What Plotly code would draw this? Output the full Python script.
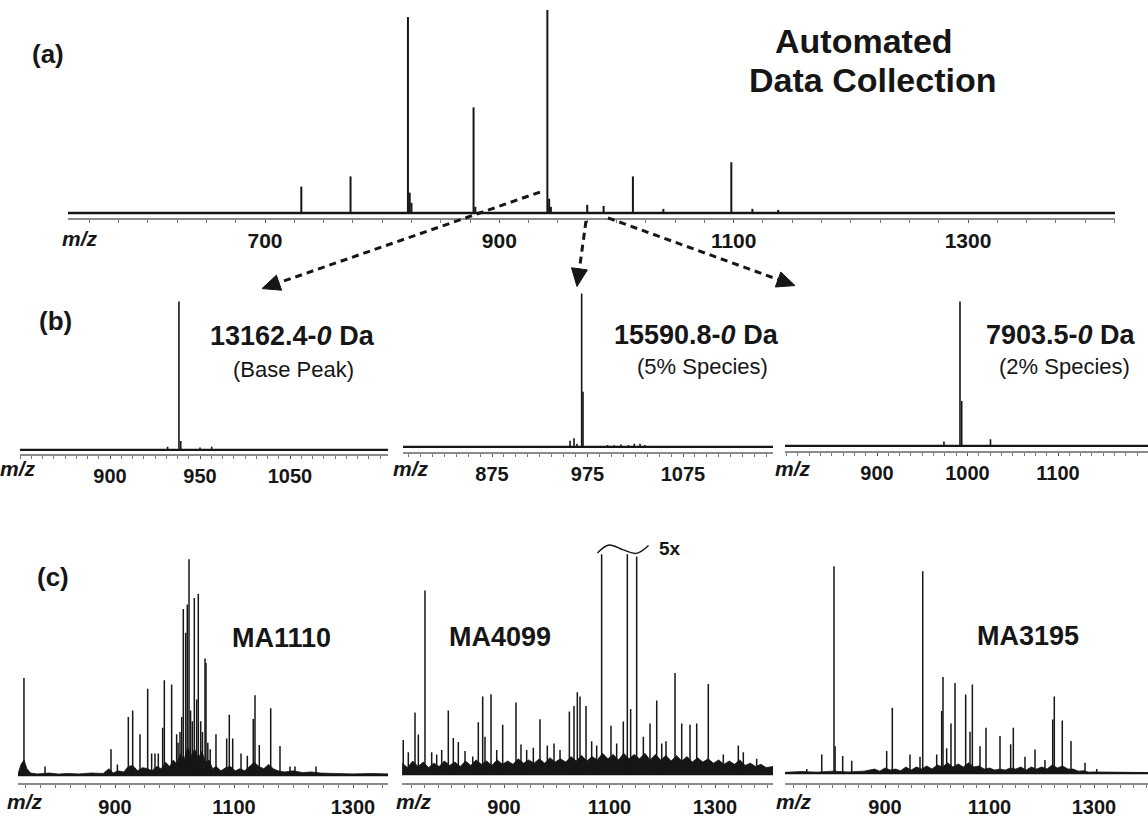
import math
import plotly.graph_objects as go

FIG_W, FIG_H = 1148, 818
FONT = "Liberation Sans, Arial, Helvetica, sans-serif"
INK = "#161616"

# ---------------- (a) survey scan ----------------
survey_mz = [731, 773, 822, 823.5, 825, 878, 879.5, 941, 942.5, 944, 975, 989,
             1014, 1040, 1098, 1116, 1138]
survey_int = [0.13, 0.18, 0.965, 0.10, 0.05, 0.52, 0.03, 1.0, 0.07, 0.03, 0.04, 0.035,
              0.18, 0.02, 0.25, 0.02, 0.015]
survey_ticks = [700, 900, 1100, 1300]

# ---------------- (b) isolated species ----------------
base_mz = [932, 938.3, 939.3, 950, 956.5]
base_int = [0.02, 1.0, 0.06, 0.015, 0.02]
base_ticks = [900, 950, 1000]
base_ticktext = ["900", "950", "1050"]

sp5_mz = [956.7, 960.9, 964, 968.9, 970.3, 996, 1003, 1010, 1018, 1024, 1030, 1035]
sp5_int = [0.04, 0.056, 0.02, 1.0, 0.36, 0.012, 0.01, 0.015, 0.012, 0.02, 0.02, 0.012]
sp5_ticks = [875, 975, 1075]

sp2_mz = [974, 991.7, 993.6, 1025.4]
sp2_int = [0.03, 1.0, 0.31, 0.046]
sp2_ticks = [900, 1000, 1100]

# ---------------- (c) archived spectra ----------------
ma1110_mz = [747, 782.4, 893.3, 904, 922.4, 929.7, 942, 954.9, 961.6, 967.2, 972.8, 980.1,
             982.9, 995.2, 1003.6, 1006, 1009.2, 1012.1, 1014.8, 1018.8, 1021.5, 1024.4, 1027,
             1030, 1033.3, 1037.3, 1040, 1044, 1047, 1051.3, 1052.9, 1056, 1060, 1069.7,
             1087.7, 1092.1, 1097.8, 1111.8, 1122.4, 1132.4, 1135.3, 1142.5, 1161.7, 1177.3,
             1194.1, 1202.5, 1237.8]
ma1110_int = [0.45, 0.04, 0.12, 0.05, 0.27, 0.30, 0.19, 0.40, 0.10, 0.10, 0.10, 0.22,
              0.44, 0.42, 0.19, 0.15, 0.20, 0.27, 0.77, 0.66, 0.79, 1.0, 0.30,
              0.25, 0.82, 0.35, 0.84, 0.25, 0.20, 0.54, 0.52, 0.15, 0.12, 0.19,
              0.17, 0.28, 0.17, 0.10, 0.09, 0.26, 0.37, 0.14, 0.31, 0.135,
              0.04, 0.04, 0.04]
ma1110_noise_mz = [737, 742, 747, 752, 758, 770, 790, 805, 820, 840, 860, 880, 890, 897, 905,
                   915, 922, 930, 938, 946, 955, 962, 970, 978, 985, 992, 998, 1004, 1010,
                   1016, 1022, 1028, 1034, 1040, 1046, 1052, 1058, 1064, 1070, 1078, 1086,
                   1094, 1102, 1110, 1118, 1126, 1134, 1142, 1150, 1158, 1166, 1174, 1185,
                   1200, 1215, 1230, 1245, 1270, 1300, 1330, 1359]
ma1110_noise_int = [0.005, 0.05, 0.07, 0.03, 0.01, 0.006, 0.01, 0.005, 0.008, 0.006, 0.01,
                    0.008, 0.03, 0.01, 0.02, 0.015, 0.04, 0.045, 0.02, 0.035, 0.03, 0.02,
                    0.04, 0.03, 0.06, 0.04, 0.07, 0.05, 0.10, 0.07, 0.13, 0.09, 0.12, 0.08,
                    0.11, 0.06, 0.07, 0.03, 0.04, 0.02, 0.035, 0.04, 0.02, 0.03, 0.02, 0.04,
                    0.06, 0.04, 0.03, 0.05, 0.03, 0.02, 0.015, 0.02, 0.012, 0.015, 0.01,
                    0.008, 0.006, 0.008, 0.006]

ma4099_mz = [709, 718.6, 731.3, 737.6, 750.2, 762.9, 772.4, 781.9, 794.4, 803.9, 813.4, 826.1,
             840.7, 851.3, 859.6, 864, 875.4, 886.2, 897.5, 922.7, 932.2, 943, 955.6, 968.2,
             982.1, 994.8, 1006.2, 1023.9, 1032.7, 1039, 1044.1, 1055.5, 1066.2, 1075.7,
             1085.1, 1102.8, 1113.6, 1126.2, 1133.8, 1140.1, 1151.5, 1164.2, 1176.8, 1189.5,
             1199, 1207.1, 1224.2, 1236.9, 1252.6, 1265.3, 1287.3, 1315.8, 1344.2, 1353.7, 1379]
ma4099_int = [0.155, 0.10, 0.28, 0.18, 0.835, 0.10, 0.09, 0.11, 0.29, 0.165, 0.146, 0.105,
              0.08, 0.236, 0.353, 0.17, 0.364, 0.11, 0.225, 0.326, 0.135, 0.11, 0.12, 0.25,
              0.13, 0.14, 0.11, 0.285, 0.31, 0.373, 0.353, 0.31, 0.15, 0.13,
              1.0, 0.22, 0.14, 0.24, 1.0, 0.296, 0.99, 0.17, 0.23, 0.335,
              0.14, 0.15, 0.46, 0.23, 0.225, 0.23, 0.41, 0.09, 0.13, 0.10, 0.07]
ma4099_noise_mz = [707, 717, 727, 737, 747, 757, 767, 777, 787, 797, 807, 817, 827, 837, 847,
                   857, 867, 877, 887, 897, 907, 917, 927, 937, 947, 957, 967, 977, 987, 997,
                   1007, 1017, 1027, 1037, 1047, 1057, 1067, 1077, 1087, 1097, 1107, 1117,
                   1127, 1137, 1147, 1157, 1167, 1177, 1187, 1197, 1207, 1217, 1227, 1237,
                   1247, 1257, 1267, 1277, 1287, 1297, 1307, 1317, 1327, 1337, 1347, 1357,
                   1367, 1377, 1387, 1397, 1410]
ma4099_noise_int = [0.05, 0.03, 0.06, 0.035, 0.055, 0.03, 0.05, 0.035, 0.06, 0.04, 0.055,
                    0.035, 0.06, 0.04, 0.065, 0.045, 0.06, 0.04, 0.065, 0.045, 0.06, 0.045,
                    0.07, 0.05, 0.065, 0.05, 0.07, 0.05, 0.075, 0.055, 0.07, 0.055, 0.08,
                    0.06, 0.085, 0.06, 0.08, 0.065, 0.095, 0.07, 0.09, 0.065, 0.095, 0.07,
                    0.09, 0.07, 0.095, 0.065, 0.09, 0.065, 0.085, 0.06, 0.085, 0.06, 0.08,
                    0.055, 0.075, 0.055, 0.07, 0.05, 0.065, 0.045, 0.06, 0.045, 0.065, 0.04,
                    0.05, 0.035, 0.045, 0.03, 0.035]

ma3195_mz = [750.2, 778.9, 802.4, 804.5, 819, 836.3, 903.2, 914, 947.8, 967, 972.2, 998.9,
             1008.5, 1011, 1018, 1026.3, 1034, 1054.4, 1062.7, 1067.2, 1081.8, 1093.3, 1120.1,
             1140.5, 1145.6, 1167.9, 1187.1, 1206.2, 1221, 1224, 1239.3, 1256, 1282.8, 1305.2]
ma3195_int = [0.02, 0.09, 1.0, 0.13, 0.083, 0.06, 0.107, 0.316, 0.09, 0.08, 0.976, 0.09,
              0.30, 0.465, 0.12, 0.24, 0.436, 0.38, 0.20, 0.428, 0.13, 0.22, 0.18,
              0.14, 0.22, 0.08, 0.115, 0.064, 0.26, 0.37, 0.255, 0.155, 0.05, 0.02]
ma3195_noise_mz = [709, 740, 770, 800, 830, 860, 880, 890, 900, 910, 920, 930, 940, 950, 960,
                   970, 980, 990, 1000, 1010, 1020, 1030, 1040, 1050, 1060, 1070, 1080, 1090,
                   1100, 1110, 1120, 1130, 1140, 1150, 1160, 1170, 1180, 1190, 1200, 1210,
                   1220, 1230, 1240, 1250, 1260, 1270, 1280, 1290, 1300, 1403]
ma3195_noise_int = [0.004, 0.008, 0.005, 0.01, 0.006, 0.01, 0.02, 0.01, 0.025, 0.015, 0.02,
                    0.012, 0.03, 0.015, 0.03, 0.02, 0.035, 0.02, 0.04, 0.03, 0.05, 0.03,
                    0.045, 0.03, 0.05, 0.03, 0.035, 0.02, 0.025, 0.015, 0.02, 0.015, 0.025,
                    0.02, 0.03, 0.015, 0.03, 0.02, 0.03, 0.02, 0.04, 0.025, 0.035, 0.02,
                    0.02, 0.01, 0.012, 0.005, 0.006, 0.003]
c_ticks = [900, 1100, 1300]

# 5x marker over the scaled peaks of MA4099
wave_mz = [1077, 1099, 1126, 1151, 1174]
wave_y = [1.006, 1.042, 1.02, 1.004, 1.04]

# pixel layout of each spectrum box: left/right edge, calibration, baseline, axis line, top
panels = [
    dict(mz=survey_mz, inten=survey_int, nmz=None, nint=None,
         left=68, right=1115, cal=((700, 265), (1300, 968)), base=214, axis=219, top=10, unit=204,
         tv=survey_ticks, tt=None, minor=(700, 25), font=21, stick=2.0, base_w=2.6, stand=0),
    dict(mz=base_mz, inten=base_int, nmz=None, nint=None,
         left=20, right=388, cal=((900, 110), (950, 200)), base=452, axis=456, top=290, unit=149,
         tv=base_ticks, tt=base_ticktext, minor=(900, 6.25), font=20, stick=1.6, base_w=2.2, stand=0),
    dict(mz=sp5_mz, inten=sp5_int, nmz=None, nint=None,
         left=403, right=773, cal=((875, 492), (1075, 683)), base=449, axis=454, top=285, unit=154,
         tv=sp5_ticks, tt=None, minor=(875, 12.5), font=20, stick=1.6, base_w=2.2, stand=0),
    dict(mz=sp2_mz, inten=sp2_int, nmz=None, nint=None,
         left=785, right=1148, cal=((900, 877), (1100, 1058)), base=448, axis=453, top=290, unit=145,
         tv=sp2_ticks, tt=None, minor=(900, 12.5), font=20, stick=1.6, base_w=2.2, stand=0),
    dict(mz=ma1110_mz, inten=ma1110_int, nmz=ma1110_noise_mz, nint=ma1110_noise_int,
         left=18, right=388, cal=((900, 115), (1300, 353)), base=779, axis=787, top=545, unit=217,
         tv=c_ticks, tt=None, minor=(900, 25), font=20, stick=1.5, base_w=2.0, stand=2),
    dict(mz=ma4099_mz, inten=ma4099_int, nmz=ma4099_noise_mz, nint=ma4099_noise_int,
         left=402, right=773, cal=((900, 504), (1300, 715)), base=778, axis=787, top=538, unit=221,
         tv=c_ticks, tt=None, minor=(900, 25), font=20, stick=1.5, base_w=2.0, stand=2),
    dict(mz=ma3195_mz, inten=ma3195_int, nmz=ma3195_noise_mz, nint=ma3195_noise_int,
         left=785, right=1148, cal=((900, 885), (1300, 1094)), base=777, axis=787, top=545, unit=208,
         tv=c_ticks, tt=None, minor=(900, 25), font=20, stick=1.5, base_w=2.0, stand=2),
]


def mz_at(px, cal):
    (m1, p1), (m2, p2) = cal
    return m1 + (px - p1) * (m2 - m1) / (p2 - p1)


fig = go.Figure()
layout = {}

for i, p in enumerate(panels, start=1):
    sfx = "" if i == 1 else str(i)
    xa, ya = "x" + sfx, "y" + sfx
    x0, x1 = mz_at(p["left"], p["cal"]), mz_at(p["right"], p["cal"])
    y0 = -(p["axis"] - p["base"]) / p["unit"]
    y1 = (p["base"] - p["top"]) / p["unit"]

    # baseline of the spectrum
    fig.add_trace(go.Scatter(x=[x0, x1], y=[0, 0], mode="lines", xaxis=xa, yaxis=ya,
                             line=dict(color=INK, width=p["base_w"]), hoverinfo="skip",
                             showlegend=False))
    # chemical-noise envelope
    if p["nmz"]:
        fig.add_trace(go.Scatter(x=p["nmz"], y=p["nint"], mode="lines", fill="tozeroy",
                                 fillcolor=INK, line=dict(color=INK, width=0.8),
                                 xaxis=xa, yaxis=ya, hoverinfo="skip", showlegend=False))
    # centroid sticks
    sx, sy = [], []
    for m, h in zip(p["mz"], p["inten"]):
        sx += [m, m, None]
        sy += [0, h, None]
    fig.add_trace(go.Scatter(x=sx, y=sy, mode="lines", xaxis=xa, yaxis=ya,
                             line=dict(color=INK, width=p["stick"]), hoverinfo="skip",
                             showlegend=False))

    tick_kw = dict(tickmode="array", tickvals=p["tv"])
    if p["tt"] is not None:
        tick_kw["ticktext"] = p["tt"]
    layout["xaxis" + sfx] = dict(
        domain=[p["left"] / FIG_W, p["right"] / FIG_W], anchor=ya, range=[x0, x1],
        showline=True, linecolor="#8c8c8c", linewidth=2, showgrid=False, zeroline=False,
        ticks="outside", ticklen=3, tickwidth=1.4, tickcolor="#555",
        ticklabelstandoff=p["stand"],
        minor=dict(ticks="outside", ticklen=3, tickwidth=1.2, tickcolor="#777",
                   tick0=p["minor"][0], dtick=p["minor"][1], showgrid=False),
        tickfont=dict(family=FONT, size=p["font"], color=INK, weight="bold"),
        fixedrange=True, **tick_kw)
    layout["yaxis" + sfx] = dict(
        domain=[1 - p["axis"] / FIG_H, 1 - p["top"] / FIG_H], anchor=xa, range=[y0, y1],
        visible=False, showgrid=False, zeroline=False, fixedrange=True)

# 5x squiggle
fig.add_trace(go.Scatter(x=wave_mz, y=wave_y, mode="lines", xaxis="x6", yaxis="y6",
                         line=dict(color=INK, width=1.4, shape="spline"),
                         hoverinfo="skip", showlegend=False))


def px(x, y):
    return x / FIG_W, 1 - y / FIG_H


annotations = []


def label(text, x, y, size, bold=True, italic=False, anchor="center"):
    t = text
    if italic:
        t = "<i>" + t + "</i>"
    if bold:
        t = "<b>" + t + "</b>"
    ax, ay = px(x, y)
    annotations.append(dict(text=t, x=ax, y=ay, xref="paper", yref="paper", showarrow=False,
                            xanchor=anchor, yanchor="middle",
                            font=dict(family=FONT, size=size, color=INK)))


label("(a)", 48, 54, 26)
label("(b)", 55, 323, 26)
label("(c)", 53, 580, 26)
label("Automated", 864, 41, 34)
label("Data Collection", 872, 80, 34)

label("13162.4-<i>0</i> Da", 292, 338, 27)
label("(Base Peak)", 293, 371, 22, bold=False)
label("15590.8-<i>0</i> Da", 696, 337, 27)
label("(5% Species)", 702, 368, 22, bold=False)
label("7903.5-<i>0</i> Da", 1061, 337, 27)
label("(2% Species)", 1064, 368, 22, bold=False)

label("MA1110", 281, 641, 27)
label("MA4099", 500, 640, 27)
label("MA3195", 1028, 639, 27)
label("5x", 670, 551, 19)

for (mx, my) in [(80, 240), (18, 471), (411, 471), (793, 471), (25, 805), (414, 805), (794, 805)]:
    label("m/z", mx, my, 21, italic=True)

# dashed arrows from the survey peaks to the selected species
shapes = []
arrows = [((540, 193), (262, 290)), ((586, 222), (577, 288)), ((608, 219), (795, 287))]
for (sx0, sy0), (tx, ty) in arrows:
    dx, dy = tx - sx0, ty - sy0
    L = math.hypot(dx, dy)
    ux, uy = dx / L, dy / L
    head, half = 18, 8
    bx, by = tx - ux * head, ty - uy * head
    a0, b0 = px(sx0, sy0)
    a1, b1 = px(bx, by)
    shapes.append(dict(type="line", xref="paper", yref="paper", x0=a0, y0=b0, x1=a1, y1=b1,
                       line=dict(color=INK, width=3, dash="7px,5px")))
    p1 = px(tx, ty)
    p2 = px(bx - uy * half, by + ux * half)
    p3 = px(bx + uy * half, by - ux * half)
    path = "M {} {} L {} {} L {} {} Z".format(p1[0], p1[1], p2[0], p2[1], p3[0], p3[1])
    shapes.append(dict(type="path", xref="paper", yref="paper", path=path,
                       fillcolor=INK, line=dict(color=INK, width=1)))

fig.update_layout(
    width=FIG_W, height=FIG_H, margin=dict(l=0, r=0, t=0, b=0),
    paper_bgcolor="white", plot_bgcolor="white", showlegend=False,
    annotations=annotations, shapes=shapes, **layout)

fig.write_html("out.html")
